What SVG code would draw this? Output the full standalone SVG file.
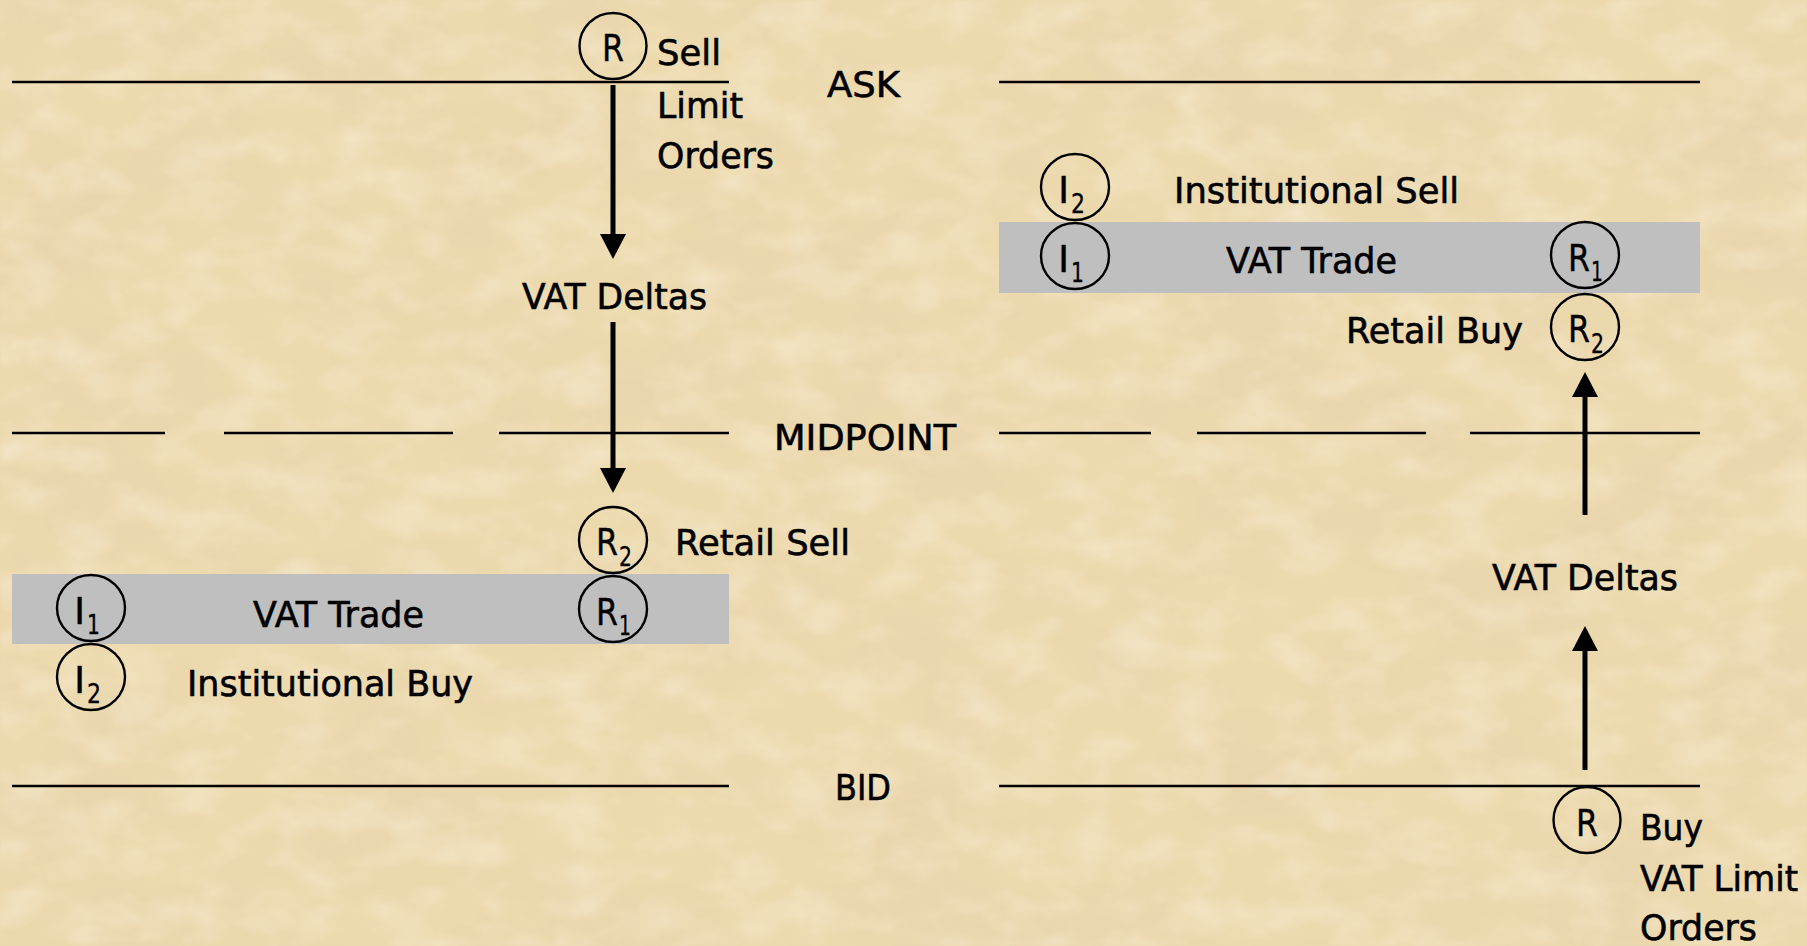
<svg xmlns="http://www.w3.org/2000/svg" width="1807" height="946" viewBox="0 0 1807 946">
  <defs>
    <style>
      .lvl{stroke:#000;stroke-width:2.4;fill:none}
      .band{fill:#BFBFBF}
      .lbl{font-family:"DejaVu Sans","Liberation Sans",sans-serif;font-size:35px;fill:#000;stroke:#000;stroke-width:0.6}
      .ring{fill:none;stroke:#000;stroke-width:2.4}
      .sym{font-family:"DejaVu Sans","Liberation Sans",sans-serif;font-size:38px;fill:#000;stroke:#000;stroke-width:0.4}
      .sub{font-family:"DejaVu Sans","Liberation Sans",sans-serif;font-size:27px;fill:#000;stroke:#000;stroke-width:0.3}
      .flow{stroke:#000;stroke-width:5;fill:none;marker-end:url(#head)}
    </style>
    <marker id="head" markerUnits="userSpaceOnUse" viewBox="0 0 25 26" markerWidth="25" markerHeight="26" refX="0" refY="13" orient="auto">
      <path d="M0,0 L25,13 L0,26 z" fill="#000"/>
    </marker>
    <!-- parchment texture: soft tan mottling and pale patches over a beige base -->
    <filter id="blotch" x="0" y="0" width="1807" height="946" filterUnits="userSpaceOnUse">
      <feTurbulence type="fractalNoise" baseFrequency="0.006 0.009" numOctaves="5" seed="7"/>
      <feColorMatrix type="matrix" values="0 0 0 0 0.80  0 0 0 0 0.65  0 0 0 0 0.42  1.3 0 0 0 -0.52"/>
    </filter>
    <filter id="fleck" x="0" y="0" width="1807" height="946" filterUnits="userSpaceOnUse">
      <feTurbulence type="fractalNoise" baseFrequency="0.018 0.03" numOctaves="4" seed="21"/>
      <feColorMatrix type="matrix" values="0 0 0 0 1  0 0 0 0 0.96  0 0 0 0 0.85  0 1.2 0 0 -0.5"/>
      <feGaussianBlur stdDeviation="1.2"/>
    </filter>
  </defs>

  <!-- background -->
  <rect x="0" y="0" width="1807" height="946" fill="#ECD9AD"/>
  <rect x="0" y="0" width="1807" height="946" filter="url(#blotch)"/>
  <rect x="0" y="0" width="1807" height="946" filter="url(#fleck)" opacity="0.6"/>

  <!-- price levels -->
  <g id="levels">
    <line class="lvl" x1="12" y1="82" x2="729" y2="82"/>
    <line class="lvl" x1="999" y1="82" x2="1700" y2="82"/>
    <line class="lvl" x1="12" y1="433" x2="165" y2="433"/>
    <line class="lvl" x1="224" y1="433" x2="453" y2="433"/>
    <line class="lvl" x1="499" y1="433" x2="729" y2="433"/>
    <line class="lvl" x1="999" y1="433" x2="1151" y2="433"/>
    <line class="lvl" x1="1197" y1="433" x2="1426" y2="433"/>
    <line class="lvl" x1="1470" y1="433" x2="1700" y2="433"/>
    <line class="lvl" x1="12" y1="786" x2="729" y2="786"/>
    <line class="lvl" x1="999" y1="786" x2="1700" y2="786"/>
    <text class="lbl" x="827" y="97" textLength="73" lengthAdjust="spacingAndGlyphs">ASK</text>
    <text class="lbl" x="774" y="450" textLength="182" lengthAdjust="spacingAndGlyphs">MIDPOINT</text>
    <text class="lbl" x="835" y="800" textLength="56" lengthAdjust="spacingAndGlyphs">BID</text>
  </g>

  <!-- trade bands -->
  <g id="trade-left">
    <rect class="band" x="12" y="574" width="717" height="70"/>
    <text class="lbl" x="253" y="627" textLength="171" lengthAdjust="spacingAndGlyphs">VAT Trade</text>
  </g>
  <g id="trade-right">
    <rect class="band" x="999" y="222" width="701" height="71"/>
    <text class="lbl" x="1226" y="273" textLength="171" lengthAdjust="spacingAndGlyphs">VAT Trade</text>
  </g>

  <!-- connectors -->
  <g id="connectors">
    <line class="flow" x1="613" y1="85" x2="613" y2="234"/>
    <line class="flow" x1="613" y1="322" x2="613" y2="468"/>
    <line class="flow" x1="1585" y1="515" x2="1585" y2="397"/>
    <line class="flow" x1="1585" y1="770" x2="1585" y2="651"/>
  </g>

  <!-- left side -->
  <g id="sell-limit">
    <ellipse class="ring" cx="613" cy="46" rx="33.5" ry="33"/>
    <text class="sym" x="613" y="61" text-anchor="middle" textLength="22" lengthAdjust="spacingAndGlyphs">R</text>
    <text class="lbl" x="657" y="65" textLength="64" lengthAdjust="spacingAndGlyphs">Sell</text>
    <text class="lbl" x="657" y="118" textLength="86" lengthAdjust="spacingAndGlyphs">Limit</text>
    <text class="lbl" x="657" y="168" textLength="117" lengthAdjust="spacingAndGlyphs">Orders</text>
  </g>
  <g id="deltas-left">
    <text class="lbl" x="522" y="309" textLength="185" lengthAdjust="spacingAndGlyphs">VAT Deltas</text>
  </g>
  <g id="retail-sell">
    <ellipse class="ring" cx="613" cy="540" rx="34" ry="33"/>
    <text class="sym" x="596" y="555" textLength="22" lengthAdjust="spacingAndGlyphs">R</text>
    <text class="sub" x="619" y="566" textLength="13" lengthAdjust="spacingAndGlyphs">2</text>
    <text class="lbl" x="675" y="555" textLength="175" lengthAdjust="spacingAndGlyphs">Retail Sell</text>
  </g>
  <g id="retail-left-r1">
    <ellipse class="ring" cx="613" cy="609" rx="34" ry="33"/>
    <text class="sym" x="596" y="625" textLength="22" lengthAdjust="spacingAndGlyphs">R</text>
    <text class="sub" x="619" y="635" textLength="12" lengthAdjust="spacingAndGlyphs">1</text>
  </g>
  <g id="inst-left-i1">
    <ellipse class="ring" cx="91" cy="608" rx="34" ry="33"/>
    <text class="sym" x="74" y="624">I</text>
    <text class="sub" x="87" y="634" textLength="13" lengthAdjust="spacingAndGlyphs">1</text>
  </g>
  <g id="inst-buy">
    <ellipse class="ring" cx="91" cy="677" rx="34" ry="33"/>
    <text class="sym" x="74" y="693">I</text>
    <text class="sub" x="87" y="703" textLength="14" lengthAdjust="spacingAndGlyphs">2</text>
    <text class="lbl" x="187" y="696" textLength="286" lengthAdjust="spacingAndGlyphs">Institutional Buy</text>
  </g>

  <!-- right side -->
  <g id="inst-sell">
    <ellipse class="ring" cx="1075" cy="187" rx="34" ry="33"/>
    <text class="sym" x="1058" y="203">I</text>
    <text class="sub" x="1071" y="213" textLength="14" lengthAdjust="spacingAndGlyphs">2</text>
    <text class="lbl" x="1174" y="203" textLength="285" lengthAdjust="spacingAndGlyphs">Institutional Sell</text>
  </g>
  <g id="inst-right-i1">
    <ellipse class="ring" cx="1075" cy="256" rx="34" ry="33"/>
    <text class="sym" x="1058" y="272">I</text>
    <text class="sub" x="1071" y="282" textLength="13" lengthAdjust="spacingAndGlyphs">1</text>
  </g>
  <g id="retail-right-r1">
    <ellipse class="ring" cx="1585" cy="255" rx="34" ry="33"/>
    <text class="sym" x="1568" y="271" textLength="22" lengthAdjust="spacingAndGlyphs">R</text>
    <text class="sub" x="1591" y="281" textLength="12" lengthAdjust="spacingAndGlyphs">1</text>
  </g>
  <g id="retail-buy">
    <ellipse class="ring" cx="1585" cy="327" rx="34" ry="33"/>
    <text class="sym" x="1568" y="342" textLength="22" lengthAdjust="spacingAndGlyphs">R</text>
    <text class="sub" x="1591" y="353" textLength="13" lengthAdjust="spacingAndGlyphs">2</text>
    <text class="lbl" x="1346" y="343" textLength="177" lengthAdjust="spacingAndGlyphs">Retail Buy</text>
  </g>
  <g id="deltas-right">
    <text class="lbl" x="1492" y="590" textLength="186" lengthAdjust="spacingAndGlyphs">VAT Deltas</text>
  </g>
  <g id="buy-limit">
    <ellipse class="ring" cx="1587" cy="820" rx="33.5" ry="33"/>
    <text class="sym" x="1587" y="836" text-anchor="middle" textLength="22" lengthAdjust="spacingAndGlyphs">R</text>
    <text class="lbl" x="1640" y="840" textLength="63" lengthAdjust="spacingAndGlyphs">Buy</text>
    <text class="lbl" x="1640" y="891" textLength="158" lengthAdjust="spacingAndGlyphs">VAT Limit</text>
    <text class="lbl" x="1640" y="940" textLength="117" lengthAdjust="spacingAndGlyphs">Orders</text>
  </g>
</svg>
